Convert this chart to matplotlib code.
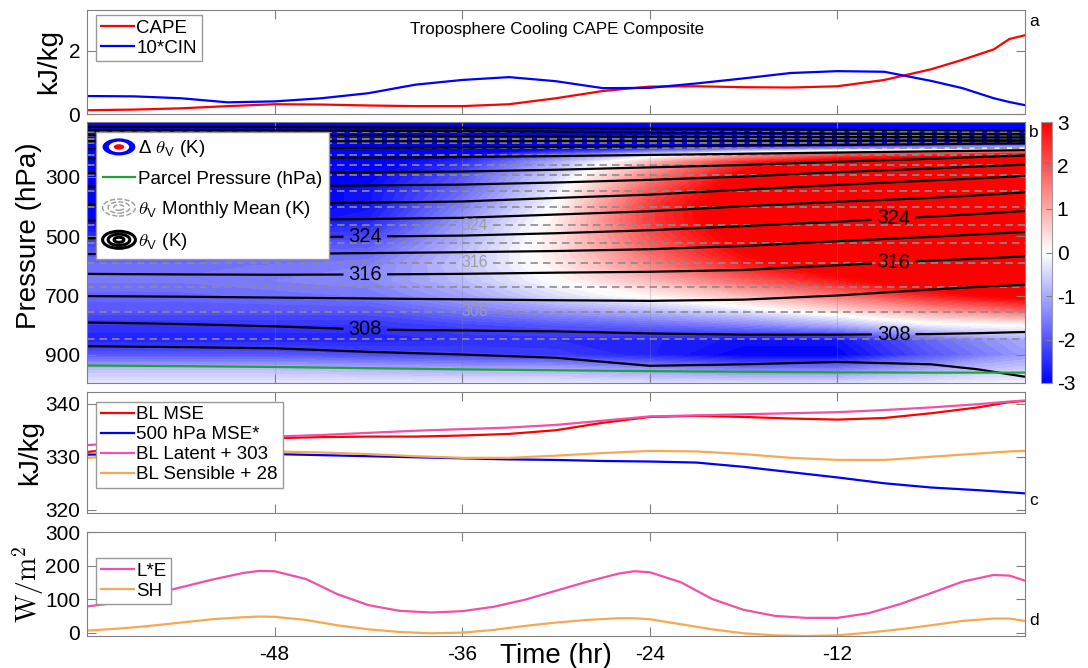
import numpy as np
import matplotlib.pyplot as plt
from matplotlib.colors import LinearSegmentedColormap, Normalize
from matplotlib.legend_handler import HandlerBase
from matplotlib.patches import Ellipse
from matplotlib.lines import Line2D

plt.rcParams['font.family'] = ['Liberation Sans', 'DejaVu Sans']
plt.rcParams['mathtext.fontset'] = 'cm'
plt.rcParams['axes.unicode_minus'] = False

# ---------------- data ----------------
# panel a
t_a = [-60, -57, -54, -51, -48, -45, -42, -39, -36, -33, -30, -27, -24, -21,
       -18, -15, -12, -9, -6, -4, -2, -1, 0]
cape = [0.12, 0.14, 0.18, 0.25, 0.31, 0.30, 0.27, 0.25, 0.25, 0.31, 0.50, 0.73,
        0.87, 0.88, 0.85, 0.84, 0.88, 1.08, 1.42, 1.72, 2.05, 2.38, 2.50]
cin10 = [0.57, 0.56, 0.50, 0.37, 0.40, 0.50, 0.66, 0.93, 1.08, 1.17, 1.04, 0.82,
         0.83, 0.97, 1.13, 1.30, 1.36, 1.34, 1.05, 0.82, 0.50, 0.38, 0.28]

# panel b: delta theta_v (K), rows = pressure, cols = time
dtv_t = [-60, -54, -48, -42, -36, -30, -24, -18, -12, -6, 0]
dtv_p = [110, 150, 180, 200, 225, 250, 300, 350, 400, 450, 500, 550, 600, 650,
         700, 750, 800, 850, 900, 950, 1000]
dtv = [
    [-4.0, -4.0, -4.0, -4.0, -4.0, -4.0, -4.0, -4.0, -4.0, -4.0, -4.0],
    [-4.0, -4.0, -4.0, -4.0, -4.0, -4.0, -4.0, -4.0, -4.0, -4.0, -4.0],
    [-4.0, -4.0, -4.0, -4.0, -4.0, -4.0, -4.0, -4.0, -4.0, -4.0, -4.0],
    [-4.0, -4.0, -4.0, -4.0, -3.8, -3.5, -3.0, -2.5, -2.0, -1.5, -1.0],
    [-3.8, -3.8, -3.7, -3.5, -3.0, -1.8, -0.5, 1.0, 2.0, 2.5, 3.0],
    [-3.5, -3.5, -3.4, -3.2, -2.5, -1.0, 0.8, 2.5, 3.5, 4.0, 4.2],
    [-3.3, -3.3, -3.2, -3.0, -2.0, -0.5, 1.5, 3.2, 4.0, 4.5, 4.8],
    [-3.2, -3.2, -3.1, -2.8, -1.8, -0.2, 2.0, 3.5, 4.2, 4.6, 5.0],
    [-3.2, -3.2, -3.1, -2.8, -1.5, 0.0, 2.3, 3.6, 4.3, 4.7, 5.0],
    [-3.0, -3.0, -2.9, -2.6, -1.2, 0.2, 2.3, 3.5, 4.2, 4.6, 5.0],
    [-2.5, -2.5, -2.4, -2.2, -1.0, 0.3, 2.0, 3.3, 4.0, 4.5, 4.8],
    [-2.0, -2.0, -1.9, -1.8, -0.8, 0.3, 1.8, 3.0, 3.8, 4.3, 4.6],
    [-1.7, -1.7, -1.6, -1.5, -0.7, 0.2, 1.4, 2.6, 3.4, 4.0, 4.4],
    [-1.6, -1.6, -1.5, -1.4, -0.8, 0.0, 0.8, 1.8, 2.7, 3.5, 4.0],
    [-1.8, -1.8, -1.7, -1.6, -1.1, -0.4, 0.1, 0.8, 1.6, 2.6, 3.3],
    [-2.0, -2.0, -2.0, -2.0, -1.6, -1.2, -0.8, -0.3, 0.4, 1.2, 1.8],
    [-2.4, -2.4, -2.4, -2.4, -2.2, -2.0, -1.8, -1.5, -1.0, -0.2, 0.0],
    [-2.6, -2.6, -2.6, -2.6, -2.5, -2.5, -2.6, -2.8, -2.8, -1.8, -1.0],
    [-2.0, -2.0, -2.0, -2.1, -2.2, -2.3, -2.6, -3.0, -3.0, -2.0, -1.2],
    [-0.8, -0.8, -0.8, -0.9, -1.0, -1.0, -1.2, -1.5, -1.5, -1.0, -0.6],
    [-0.2, -0.2, -0.2, -0.2, -0.2, -0.2, -0.3, -0.3, -0.3, -0.2, -0.1],
]

# theta_v isentropes: pressure (hPa) of each level at each time
thv_t = [-60, -54, -48, -42, -36, -30, -24, -18, -12, -6, -3, 0]
thv_levels = [304, 308, 312, 316, 320, 324, 328, 332, 336, 340, 344, 348, 352,
              356, 360, 364, 368]
thv_p = [
    [871, 874, 878, 890, 899, 910, 937, 932, 924, 932, 949, 974],
    [791, 796, 804, 815, 818, 821, 828, 832, 832, 830, 827, 823],
    [702, 704, 707, 710, 713, 716, 718, 714, 700, 680, 671, 664],
    [627, 629, 630, 629, 627, 623, 620, 614, 598, 582, 576, 568],
    [560, 560, 560, 557, 554, 550, 544, 533, 517, 502, 494, 486],
    [507, 506, 504, 501, 498, 490, 480, 466, 451, 434, 425, 415],
    [447, 447, 446, 442, 438, 427, 416, 399, 384, 371, 362, 352],
    [393, 392, 391, 387, 383, 371, 360, 343, 327, 312, 305, 297],
    [332, 332, 332, 329, 326, 319, 310, 299, 284, 272, 265, 259],
    [288, 287, 286, 284, 282, 276, 268, 260, 249, 239, 233, 228],
    [237, 237, 236, 235, 233, 230, 226, 222, 218, 214, 212, 210],
    [204, 204, 203, 202, 201, 199, 197, 194, 192, 190, 188, 187],
    [180, 180, 180, 180, 180, 179, 179, 178, 178, 177, 177, 177],
    [160, 160, 161, 161, 162, 163, 164, 165, 166, 166, 167, 167],
    [143, 143, 144, 145, 146, 148, 150, 152, 154, 155, 156, 157],
    [132, 132, 132, 133, 134, 135, 137, 139, 141, 142, 143, 144],
    [105, 105, 105, 105, 105, 105, 105, 105, 105, 105, 105, 105],
]
labelled = [308, 316, 324]

# monthly mean theta_v profile
mean_levels = [304, 308, 312, 316, 320, 324, 328, 332, 336, 340, 344, 348, 352,
               356, 360, 364, 368]
mean_p = [847, 755, 670, 590, 523, 463, 400, 347, 293, 260, 227, 202, 187,
          173, 162, 150, 105]

parcel_t = [-60, -54, -48, -42, -36, -30, -24, -18, -12, -6, 0]
parcel_p = [936, 938, 941, 945, 949, 952, 955, 957, 959, 960, 960]

# panel c
t_c = [-60, -57, -54, -51, -48, -45, -42, -39, -36, -33, -30, -27, -24, -21,
       -18, -15, -12, -9, -6, -3, -1, 0]
bl_mse = [330.9, 331.8, 332.6, 333.2, 333.5, 333.7, 333.8, 333.8, 334.0, 334.3,
          335.0, 336.4, 337.5, 337.7, 337.5, 337.2, 337.0, 337.3, 338.2, 339.3,
          340.3, 340.5]
mse500 = [330.4, 330.5, 330.5, 330.5, 330.5, 330.3, 330.1, 329.9, 329.7, 329.5,
          329.4, 329.2, 329.1, 328.9, 328.1, 327.1, 326.1, 325.0, 324.2, 323.7,
          323.3, 323.1]
bl_latent = [332.2, 332.7, 333.1, 333.5, 333.8, 334.1, 334.5, 334.9, 335.2, 335.5,
             336.0, 336.8, 337.6, 337.8, 338.0, 338.2, 338.4, 338.8, 339.3, 339.9,
             340.4, 340.6]
bl_sens = [329.8, 330.3, 330.7, 330.9, 331.0, 330.8, 330.5, 330.1, 329.8, 329.8,
           330.2, 330.7, 331.1, 331.0, 330.5, 329.8, 329.4, 329.4, 330.0, 330.6,
           331.0, 331.1]

# panel d
t_d = [-60, -58, -56, -54, -52, -50, -49, -48, -46, -44, -42, -40, -38, -36, -34,
       -32, -30, -28, -26, -25, -24, -22, -20, -18, -16, -14, -12, -10, -8, -6,
       -4, -2, -1, 0]
le = [78, 90, 112, 135, 158, 178, 184, 183, 160, 115, 82, 65, 60, 64, 77, 98,
      125, 152, 176, 183, 180, 150, 100, 68, 50, 44, 44, 58, 85, 118, 152, 172,
      170, 155]
sh = [6, 12, 20, 30, 40, 46, 48, 47, 38, 22, 10, 2, -2, 0, 8, 20, 30, 38, 43, 43,
      40, 25, 10, -2, -8, -10, -8, 0, 10, 22, 35, 42, 42, 35]

C_PINK = '#f050a8'
C_ORANGE = '#f7a854'
C_GREEN = '#1fa535'
SPINE = '0.5'


class RingHandler(HandlerBase):
    """legend icon made of concentric ellipses"""
    def __init__(self, rings):
        super().__init__()
        self.rings = rings

    def create_artists(self, legend, orig_handle, xdescent, ydescent, width,
                       height, fontsize, trans):
        cx = 0.5 * width - xdescent
        cy = 0.5 * height - ydescent
        out = []
        for s, fc, ec, lw, ls in self.rings:
            out.append(Ellipse((cx, cy), width * s, 1.3 * height * s, facecolor=fc,
                               edgecolor=ec, lw=lw, ls=ls, transform=trans))
        return out


def style(ax, labels=False):
    ax.set_xlim(-60, 0)
    ax.set_xticks([-48, -36, -24, -12])
    ax.tick_params(direction='in', top=True, right=True, length=6.5, width=0.8,
                   color=SPINE, labelsize=15, labelbottom=labels)
    ax.tick_params(axis='x', pad=6.5)
    ax.tick_params(axis='y', pad=5)
    for s in ax.spines.values():
        s.set_color(SPINE)


def iso_lines(ax, x, y, z, lev, **kw):
    # isolines drawn through the read positions: z is constant along each row
    return ax.contour(x, y, z, levels=np.array(lev, float) + 1e-6, **kw)


def leg(ax, y_top, **kw):
    return ax.legend(loc='upper left', bbox_to_anchor=(0.0096, y_top),
                     borderaxespad=0, fontsize=13.5, handlelength=1.75,
                     handletextpad=0.15, borderpad=0.25, fancybox=False,
                     framealpha=1, edgecolor='0.6', **kw)


fig = plt.figure(figsize=(10.88, 6.68), dpi=100)
def box(top, bot):
    return [87 / 1088, 1 - bot / 668, 938 / 1088, (bot - top) / 668]

ax_a = fig.add_axes(box(10, 114))
ax_b = fig.add_axes(box(122, 383))
ax_c = fig.add_axes(box(392, 513))
ax_d = fig.add_axes(box(532, 636))
cax = fig.add_axes([1041 / 1088, 1 - 383 / 668, 11 / 1088, 261 / 668])

# ---------------- panel a ----------------
ax_a.plot(t_a, cape, color='red', lw=1.6, label='CAPE')
ax_a.plot(t_a, cin10, color='blue', lw=1.6, label='10*CIN')
ax_a.set_ylim(0, 3.3)
ax_a.set_yticks([0, 2])
style(ax_a)
ax_a.set_ylabel('kJ/kg', fontsize=20)
ax_a.yaxis.set_label_coords(-0.027, 0.5)
ax_a.text(0.501, 0.81, 'Troposphere Cooling CAPE Composite', ha='center',
          va='center', fontsize=12.2, transform=ax_a.transAxes)
leg(ax_a, 0.952, labelspacing=0.15)

# ---------------- panel b ----------------
cmap = LinearSegmentedColormap.from_list('bwr_m', ['blue', 'white', 'red'])
ax_b.contourf(dtv_t, dtv_p, dtv, levels=np.linspace(-3, 3, 49), cmap=cmap,
              extend='both')

mx = np.broadcast_to(np.array([-60.0, 0.0]), (len(mean_p), 2))
my = np.repeat(np.array(mean_p, float)[:, None], 2, axis=1)
mz = np.repeat(np.array(mean_levels, float)[:, None], 2, axis=1)
gray_kw = dict(colors='0.55', linewidths=1.2, linestyles=[(0, (4.5, 3))])
iso_lines(ax_b, mx, my, mz, [l for l in mean_levels[:-1] if l not in labelled],
          **gray_kw)
cs_m = iso_lines(ax_b, mx, my, mz, labelled, **gray_kw)
ax_b.clabel(cs_m, inline=True, fontsize=11.5, colors='0.62',
            fmt=lambda v: f'{v:.0f}',
            manual=[(-35.2, 755), (-35.2, 590), (-35.2, 463)])

tx = np.broadcast_to(np.array(thv_t, float), (len(thv_levels), len(thv_t)))
ty = np.array(thv_p, float)
tz = np.repeat(np.array(thv_levels, float)[:, None], len(thv_t), axis=1)
iso_lines(ax_b, tx, ty, tz, [l for l in thv_levels[:-1] if l not in labelled],
          colors='k', linewidths=1.6)
cs_t = iso_lines(ax_b, tx, ty, tz, labelled, colors='k', linewidths=1.6)
ax_b.clabel(cs_t, inline=True, fontsize=14.5, colors='k',
            fmt=lambda v: f'{v:.0f}',
            manual=[(-42.2, 815), (-42.2, 629), (-42.2, 501),
                    (-8.4, 832), (-8.4, 588), (-8.4, 441)])

parcel_line, = ax_b.plot(parcel_t, parcel_p, color=C_GREEN, lw=1.6)
ax_b.set_ylim(995, 115)
ax_b.set_yticks([300, 500, 700, 900])
style(ax_b)
ax_b.grid(axis='x', color='0.5', alpha=0.3, lw=0.8)
ax_b.set_ylabel('Pressure (hPa)', fontsize=20)
ax_b.yaxis.set_label_coords(-0.048, 0.565)

h_delta, h_mean, h_thv = Line2D([], []), Line2D([], []), Line2D([], [])
hmap = {
    h_delta: RingHandler([(1.0, 'blue', 'none', 0, '-'),
                          (0.62, 'white', 'none', 0, '-'),
                          (0.32, 'red', 'none', 0, '-')]),
    h_mean: RingHandler([(1.0, 'none', '0.6', 1.0, '--'),
                         (0.66, 'none', '0.6', 1.0, '--'),
                         (0.32, 'none', '0.6', 1.0, '--')]),
    h_thv: RingHandler([(1.0, 'none', 'k', 2.2, '-'),
                        (0.66, 'none', 'k', 2.2, '-'),
                        (0.3, 'none', 'k', 2.2, '-')]),
}
ax_b.legend([h_delta, parcel_line, h_mean, h_thv],
            [r'Δ $\theta_{\mathsf{V}}$ (K)', 'Parcel Pressure (hPa)',
             r'$\theta_{\mathsf{V}}$ Monthly Mean (K)', r'$\theta_{\mathsf{V}}$ (K)'],
            handler_map=hmap, loc='upper left', bbox_to_anchor=(0.0096, 0.962),
            borderaxespad=0, fontsize=13.5, handlelength=1.75, handletextpad=0.15,
            labelspacing=0.6, borderpad=0.35, fancybox=False, framealpha=1,
            edgecolor='0.6')

cb = fig.colorbar(plt.cm.ScalarMappable(norm=Normalize(-3, 3), cmap=cmap),
                  cax=cax, ticks=range(-3, 4))
cax.tick_params(labelsize=15, direction='in', length=4, color='0.5')
cb.outline.set_edgecolor('0.6')

# ---------------- panel c ----------------
ax_c.plot(t_c, bl_mse, color='red', lw=1.6, label='BL MSE')
ax_c.plot(t_c, mse500, color='blue', lw=1.6, label='500 hPa MSE*')
ax_c.plot(t_c, bl_latent, color=C_PINK, lw=1.6, label='BL Latent + 303')
ax_c.plot(t_c, bl_sens, color=C_ORANGE, lw=1.6, label='BL Sensible + 28')
ax_c.set_ylim(319.4, 342.2)
ax_c.set_yticks([320, 330, 340])
style(ax_c)
ax_c.set_ylabel('kJ/kg', fontsize=20)
ax_c.yaxis.set_label_coords(-0.047, 0.5)
leg(ax_c, 0.92, labelspacing=0.15)

# ---------------- panel d ----------------
ax_d.plot(t_d, le, color=C_PINK, lw=1.6, label='L*E')
ax_d.plot(t_d, sh, color=C_ORANGE, lw=1.6, label='SH')
ax_d.set_ylim(-10, 300)
ax_d.set_yticks([0, 100, 200, 300])
style(ax_d, labels=True)
ax_d.set_ylabel(r'$\mathrm{W/m^2}$', fontsize=20)
ax_d.yaxis.set_label_coords(-0.044, 0.5)
ax_d.set_xlabel('Time (hr)', fontsize=20, va='top')
ax_d.xaxis.set_label_coords(0.5, -0.067)
leg(ax_d, 0.75, labelspacing=0.15)

# panel letters
for ax, letter, yy in [(ax_a, 'a', 0.885), (ax_b, 'b', 0.958),
                       (ax_c, 'c', 0.107), (ax_d, 'd', 0.15)]:
    ax.text(1.004, yy, letter, fontsize=12.5, ha='left', va='center',
            transform=ax.transAxes)

fig.savefig('out.png', dpi=100)
